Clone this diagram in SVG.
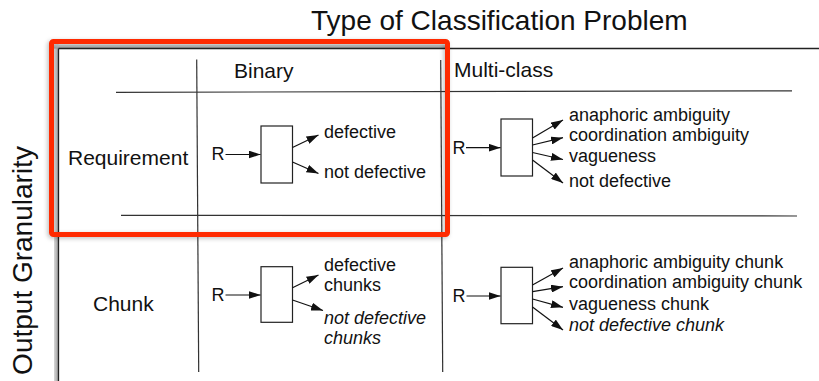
<svg xmlns="http://www.w3.org/2000/svg" width="819" height="381" viewBox="0 0 819 381">
  <style>
    text { font-family: "Liberation Sans", Arial, sans-serif; fill: #111; }
    .title { font-size: 28px; }
    .head { font-size: 21px; }
    .lbl { font-size: 18px; }
    .it { font-style: italic; }
    .grid { stroke: #333; stroke-width: 1.2; fill: none; }
    .frame { stroke: #222; stroke-width: 1.3; fill: none; }
    .box { fill: #fff; stroke: #222; stroke-width: 1.2; }
    .arr { stroke: #111; stroke-width: 1.2; fill: none; marker-end: url(#head); }
  </style>
  <defs>
    <marker id="head" viewBox="0 0 12 8" refX="12" refY="4" markerWidth="12" markerHeight="8" markerUnits="userSpaceOnUse" orient="auto">
      <path d="M0,0 L12,4 L0,8 Z" fill="#111"/>
    </marker>
    <linearGradient id="shadeL" x1="0" y1="0" x2="1" y2="0">
      <stop offset="0" stop-color="#d8d8d8"/>
      <stop offset="1" stop-color="#9a9a9a"/>
    </linearGradient>
    <linearGradient id="shadeT" x1="0" y1="0" x2="0" y2="1">
      <stop offset="0" stop-color="#d8d8d8"/>
      <stop offset="1" stop-color="#9a9a9a"/>
    </linearGradient>
    <filter id="soft" x="-10%" y="-10%" width="120%" height="120%">
      <feGaussianBlur stdDeviation="2"/>
    </filter>
  </defs>

  <rect width="819" height="381" fill="#fff"/>

  <!-- axis titles -->
  <g id="title-type">
    <text class="title" x="311" y="30">Type of Classification Problem</text>
  </g>
  <g id="title-granularity">
    <text class="title" transform="translate(32,260.5) rotate(-90)" text-anchor="middle">Output Granularity</text>
  </g>

  <!-- table frame with shading -->
  <g id="frame">
    <rect x="54" y="44.5" width="4.5" height="336.5" fill="url(#shadeL)"/>
    <rect x="54" y="44.5" width="392" height="4" fill="url(#shadeT)"/>
    <line class="frame" x1="58.5" y1="48.5" x2="819" y2="48.5"/>
    <line class="frame" x1="58.5" y1="48.5" x2="58.5" y2="381"/>
  </g>

  <!-- grid lines -->
  <g id="grid">
    <line class="grid" x1="196.7" y1="59.5" x2="198.7" y2="372"/>
    <line class="grid" x1="440.7" y1="60" x2="442.7" y2="372"/>
    <line class="grid" x1="116" y1="92.3" x2="792" y2="90.8"/>
    <line class="grid" x1="121" y1="215.3" x2="797" y2="216"/>
  </g>

  <!-- headers -->
  <g id="head-binary"><text class="head" x="234" y="78">Binary</text></g>
  <g id="head-multi"><text class="head" x="454" y="77">Multi-class</text></g>
  <g id="head-req"><text class="head" x="68" y="165">Requirement</text></g>
  <g id="head-chunk"><text class="head" x="93" y="311">Chunk</text></g>

  <!-- classifier boxes -->
  <g id="clf-bin-req">
    <text class="lbl" x="211.5" y="160">R</text>
    <rect class="box" x="261" y="126" width="31.5" height="57"/>
  </g>
  <g id="clf-bin-chunk">
    <text class="lbl" x="211.5" y="300.5">R</text>
    <rect class="box" x="261" y="266.7" width="31.5" height="55.6"/>
  </g>
  <g id="clf-multi-req">
    <text class="lbl" x="452.5" y="153.5">R</text>
    <rect class="box" x="501" y="119" width="31.5" height="57"/>
  </g>
  <g id="clf-multi-chunk">
    <text class="lbl" x="452.5" y="301.5">R</text>
    <rect class="box" x="501" y="267.3" width="31.5" height="56.4"/>
  </g>

  <!-- output labels -->
  <g id="out-bin-req">
    <text class="lbl" x="324" y="137.7">defective</text>
    <text class="lbl" x="324" y="178">not defective</text>
  </g>
  <g id="out-bin-chunk">
    <text class="lbl" x="324" y="270.7">defective</text>
    <text class="lbl" x="324" y="291">chunks</text>
    <text class="lbl it" x="324" y="324">not defective</text>
    <text class="lbl it" x="324" y="344">chunks</text>
  </g>
  <g id="out-multi-req">
    <text class="lbl" x="569" y="121">anaphoric ambiguity</text>
    <text class="lbl" x="569" y="140.5">coordination ambiguity</text>
    <text class="lbl" x="569" y="162">vagueness</text>
    <text class="lbl" x="569" y="186.5">not defective</text>
  </g>
  <g id="out-multi-chunk">
    <text class="lbl" x="569" y="268.3">anaphoric ambiguity chunk</text>
    <text class="lbl" x="569" y="288.3">coordination ambiguity chunk</text>
    <text class="lbl" x="569" y="310">vagueness chunk</text>
    <text class="lbl it" x="569" y="331">not defective chunk</text>
  </g>

  <!-- connectors -->
  <g id="connectors">
    <line class="arr" x1="225.5" y1="154.5" x2="260.5" y2="154.5"/>
    <line class="arr" x1="292.5" y1="147.5" x2="318.5" y2="135"/>
    <line class="arr" x1="292.5" y1="162" x2="318.5" y2="173.5"/>

    <line class="arr" x1="225.5" y1="295" x2="260.5" y2="295"/>
    <line class="arr" x1="292.5" y1="287.7" x2="318.5" y2="275"/>
    <line class="arr" x1="292.5" y1="300" x2="323" y2="310.5"/>

    <line class="arr" x1="466" y1="147.7" x2="500.5" y2="147.7"/>
    <line class="arr" x1="532.5" y1="138" x2="563" y2="120"/>
    <line class="arr" x1="532.5" y1="145" x2="563" y2="137.7"/>
    <line class="arr" x1="532.5" y1="152.5" x2="563" y2="159.5"/>
    <line class="arr" x1="532.5" y1="160" x2="563" y2="183"/>

    <line class="arr" x1="466.5" y1="296" x2="500.5" y2="296"/>
    <line class="arr" x1="532.5" y1="285" x2="563" y2="268"/>
    <line class="arr" x1="532.5" y1="291.7" x2="563" y2="286.7"/>
    <line class="arr" x1="532.5" y1="299" x2="563" y2="307.3"/>
    <line class="arr" x1="532.5" y1="307" x2="563" y2="330"/>
  </g>

  <!-- highlight around the requirement/binary cell -->
  <g id="highlight">
    <rect x="50" y="43" width="396" height="193" rx="2" fill="none" stroke="#000" stroke-opacity="0.25" stroke-width="5" filter="url(#soft)"/>
    <rect x="51.5" y="41.5" width="396" height="193" rx="2" fill="none" stroke="#ff2a00" stroke-width="5"/>
  </g>
</svg>
